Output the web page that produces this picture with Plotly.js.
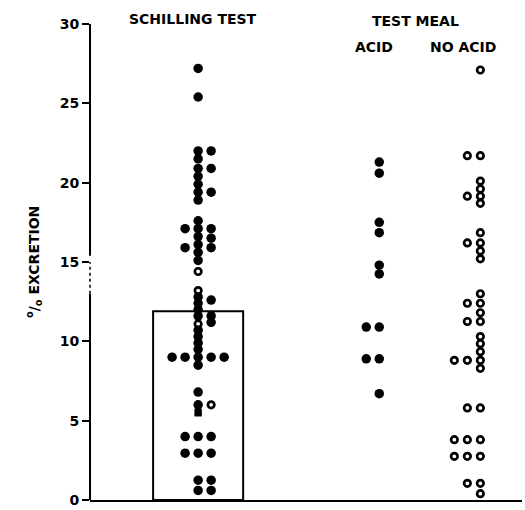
<!DOCTYPE html>
<html>
<head>
<meta charset="utf-8">
<script src="https://cdn.plot.ly/plotly-3.0.1.min.js"></script>
<style>html,body{margin:0;padding:0;background:#fff;}#chart{width:525px;height:510px;}</style>
</head>
<body>
<div id="chart"></div>
<script>
// ---- data ----
const groups = ["SCHILLING TEST", "ACID", "NO ACID"];

// Schilling test: filled circles (value, column within dot stack)
const schFilledY = [27.2, 25.4,
  22.0, 21.5, 20.9, 20.4, 19.9, 19.4, 18.9,
  22.0, 20.9, 19.4,
  17.6, 17.1, 16.6, 16.1, 15.6, 15.1,
  17.1, 15.9,
  17.1, 16.5, 15.9,
  12.8, 12.4, 12.0, 11.6, 10.7, 10.3, 9.9, 9.5, 9.0, 8.5,
  12.6, 11.6, 11.2,
  9.0, 9.0, 9.0, 9.0,
  6.8, 6.0,
  4.0, 4.0, 4.0, 2.95, 2.95, 2.95,
  1.25, 1.25, 0.6, 0.6];
const schFilledCol = [0, 0,
  0, 0, 0, 0, 0, 0, 0,
  1, 1, 1,
  0, 0, 0, 0, 0, 0,
  -1, -1,
  1, 1, 1,
  0, 0, 0, 0, 0, 0, 0, 0, 0, 0,
  1, 1, 1,
  -2, -1, 1, 2,
  0, 0,
  -1, 0, 1, -1, 0, 1,
  0, 1, 0, 1];
const schOpenY = [14.4, 13.2, 11.1, 6.0];
const schOpenCol = [0, 0, 0, 1];
const schSquareY = [5.5];
const schSquareCol = [0];
const schMean = 11.9;

// Test meal, acid: filled circles
const acidY = [21.3, 20.6, 17.5, 16.85, 14.8, 14.25, 10.9, 8.9, 6.7, 10.9, 8.9];
const acidCol = [0, 0, 0, 0, 0, 0, 0, 0, 0, -1, -1];

// Test meal, no acid: open circles
const noAcidY = [27.1, 21.7, 20.1, 19.6, 19.15, 18.7, 16.85, 16.2, 15.7, 15.2,
  13.0, 12.4, 11.8, 11.25, 10.3, 9.85, 9.35, 8.8, 8.3, 5.8, 3.8, 2.75, 1.05, 0.4,
  21.7, 19.15, 16.2, 12.4, 11.25, 8.8, 5.8, 3.8, 2.75, 1.05,
  8.8, 3.8, 2.75];
const noAcidCol = [0, 0, 0, 0, 0, 0, 0, 0, 0, 0,
  0, 0, 0, 0, 0, 0, 0, 0, 0, 0, 0, 0, 0, 0,
  -1, -1, -1, -1, -1, -1, -1, -1, -1, -1,
  -2, -2, -2];

const yTicks = [0, 5, 10, 15, 20, 25, 30];

// ---- layout constants (x axis in units of one dot-column) ----
const groupCenter = {"SCHILLING TEST": 8.31, "ACID": 22.23, "NO ACID": 30.0};
const xMax = 33.2;
const barWidth = 6.92;
const FONT = "DejaVu Sans, Liberation Sans, sans-serif";

const pos = (g, cols) => cols.map(c => groupCenter[g] + c);

const filled = {symbol: "circle", size: 9.5, color: "#000", line: {width: 0}};
const openC = {symbol: "circle-open", size: 6.5, color: "#000", line: {width: 2.7, color: "#000"}};

const traces = [
  {type: "bar", x: [groupCenter[groups[0]]], y: [schMean], width: [barWidth],
   marker: {color: "rgba(255,255,255,1)", line: {color: "#000", width: 2}},
   hoverinfo: "skip", showlegend: false},
  {type: "scatter", mode: "markers", x: pos(groups[0], schFilledCol), y: schFilledY, marker: filled, showlegend: false},
  {type: "scatter", mode: "markers", x: pos(groups[0], schOpenCol), y: schOpenY, marker: openC, showlegend: false},
  {type: "scatter", mode: "markers", x: pos(groups[0], schSquareCol), y: schSquareY,
   marker: {symbol: "square", size: 7.5, color: "#000"}, showlegend: false},
  {type: "scatter", mode: "markers", x: pos(groups[1], acidCol), y: acidY, marker: filled, showlegend: false},
  {type: "scatter", mode: "markers", x: pos(groups[2], noAcidCol), y: noAcidY, marker: openC, showlegend: false}
];

const titleFont = {family: FONT, size: 14, color: "#000", weight: "bold"};

const layout = {
  width: 525, height: 510,
  margin: {l: 90, r: 3, t: 24, b: 10},
  paper_bgcolor: "#fff", plot_bgcolor: "#fff",
  showlegend: false,
  xaxis: {range: [0, xMax], showline: true, linewidth: 2, linecolor: "#000",
          showticklabels: false, ticks: "", showgrid: false, zeroline: false},
  yaxis: {range: [0, 30], tickvals: yTicks, ticktext: yTicks.map(String),
          ticks: "outside", ticklen: 7, tickwidth: 2, tickcolor: "#000",
          showline: false, showgrid: false, zeroline: false,
          tickfont: {family: FONT, size: 14, color: "#000", weight: "bold"}},
  shapes: [
    {type: "line", xref: "paper", yref: "y", x0: 0, x1: 0, y0: 0, y1: 13, line: {color: "#000", width: 2}},
    {type: "line", xref: "paper", yref: "y", x0: 0, x1: 0, y0: 13, y1: 15, line: {color: "#000", width: 1.5, dash: "dot"}},
    {type: "line", xref: "paper", yref: "y", x0: 0, x1: 0, y0: 15.4, y1: 30, line: {color: "#000", width: 2}}
  ],
  annotations: [
    {text: "SCHILLING TEST", x: 7.9, xref: "x", y: 1.01, yref: "paper", showarrow: false, xanchor: "center", yanchor: "middle", font: titleFont},
    {text: "TEST MEAL", x: 25.0, xref: "x", y: 1.006, yref: "paper", showarrow: false, xanchor: "center", yanchor: "middle", font: titleFont},
    {text: "ACID", x: 21.8, xref: "x", y: 0.952, yref: "paper", showarrow: false, xanchor: "center", yanchor: "middle", font: titleFont},
    {text: "NO ACID", x: 28.7, xref: "x", y: 0.952, yref: "paper", showarrow: false, xanchor: "center", yanchor: "middle", font: titleFont},
    {text: "<sup>o</sup>/<sub>o</sub> EXCRETION", x: 0, xref: "paper", xshift: -56, y: 0.5, yref: "paper",
     showarrow: false, textangle: -90, xanchor: "center", yanchor: "middle", font: titleFont}
  ]
};

Plotly.newPlot("chart", traces, layout, {staticPlot: true, displayModeBar: false});
</script>
</body>
</html>
